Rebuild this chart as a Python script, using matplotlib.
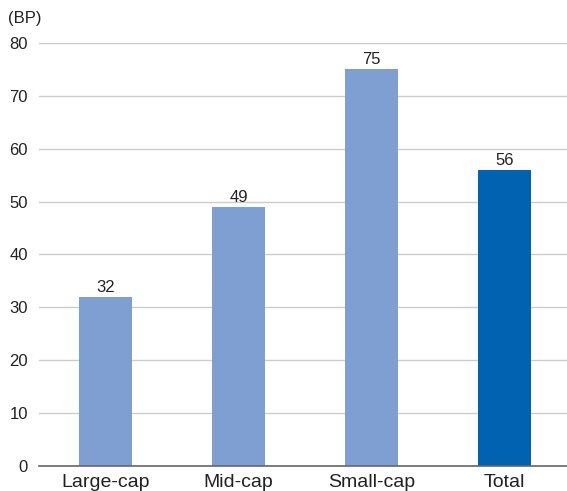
import matplotlib.pyplot as plt

categories = ['Large-cap', 'Mid-cap', 'Small-cap', 'Total']
values = [32, 49, 75, 56]
bar_colors = ['#7f9fd3', '#7f9fd3', '#7f9fd3', '#0062b0']

plt.rcParams['font.family'] = ['Liberation Sans', 'DejaVu Sans']

fig = plt.figure(figsize=(5.67, 4.91), dpi=100)
ax = fig.add_axes([39 / 567, 25 / 491, 528 / 567, 423 / 491])

x = range(len(categories))
bars = ax.bar(x, values, width=0.4, color=bar_colors, zorder=3)

for b, v in zip(bars, values):
    ax.text(b.get_x() + b.get_width() / 2, v + 0.4, str(v), ha='center', va='bottom',
            fontsize=12, color='#222222')

ax.set_xlim(-0.5, 3.47)
ax.set_ylim(0, 80)
ax.set_yticks(range(0, 81, 10))
ax.yaxis.grid(True, color='#cccccc', linewidth=1)
ax.set_axisbelow(True)

for s in ['top', 'right', 'left']:
    ax.spines[s].set_visible(False)
ax.spines['bottom'].set_color('#666666')
ax.spines['bottom'].set_linewidth(1.2)
ax.spines['bottom'].set_zorder(4)

ax.set_xticks(list(x))
ax.set_xticklabels(categories, fontsize=14, color='#222222')
ax.tick_params(axis='x', length=0, pad=6)
ax.tick_params(axis='y', length=0, pad=8, labelsize=12, labelcolor='#222222')

fig.text(8 / 567, 1 - 19 / 491, '(BP)', fontsize=12, color='#222222', va='center', ha='left')

plt.savefig('out.png', dpi=100)
